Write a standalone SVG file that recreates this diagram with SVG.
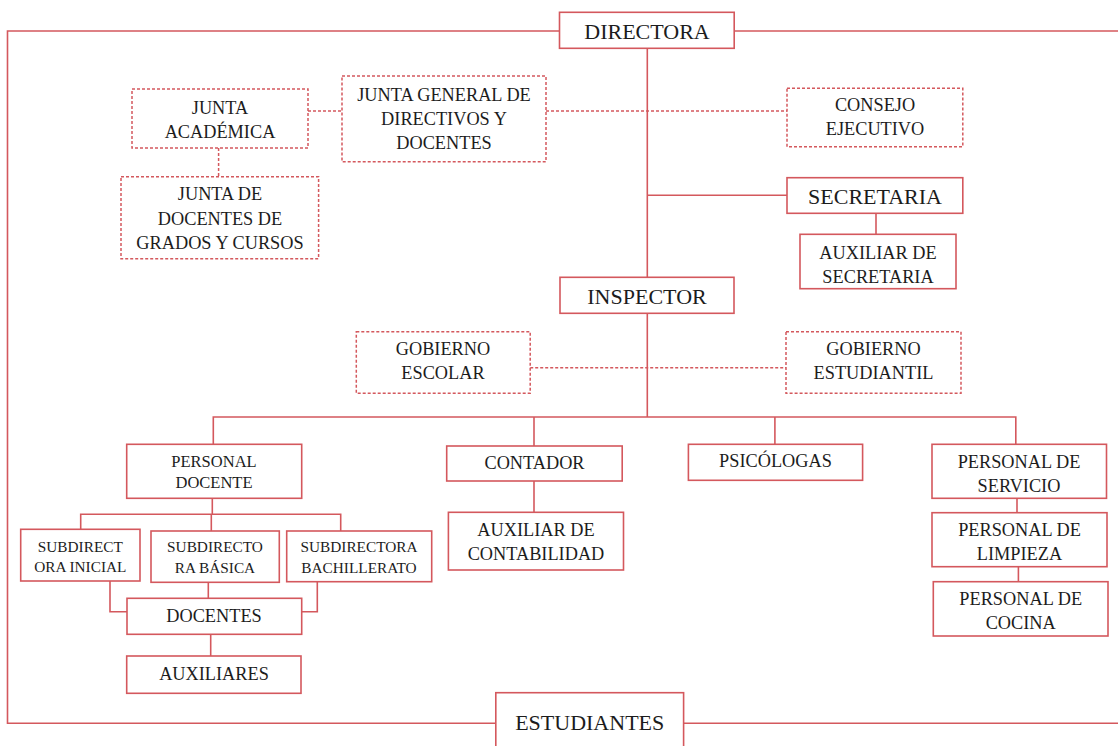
<svg xmlns="http://www.w3.org/2000/svg" width="1118" height="746" viewBox="0 0 1118 746">
  <style>
    .box { fill: #ffffff; stroke: #d4585d; stroke-width: 1.6; }
    .dbox { fill: #ffffff; stroke: #d4585d; stroke-width: 1.5; stroke-dasharray: 3 2; }
    .ln { fill: none; stroke: #d4585d; stroke-width: 1.6; }
    .dln { fill: none; stroke: #d4585d; stroke-width: 1.5; stroke-dasharray: 3 2; }
    text { font-family: "Liberation Serif", "Times New Roman", serif; fill: #1c1c1c; text-anchor: middle; }
    .lg { font-size: 22px; }
    .md { font-size: 18.3px; }
    .sm { font-size: 16.5px; }
    .xs { font-size: 15.3px; }
  </style>
  <rect width="1118" height="746" fill="#ffffff"/>

  <!-- connectors -->
  <g id="connectors">
    <!-- outer frame linking DIRECTORA and ESTUDIANTES -->
    <polyline class="ln" points="559.5,31 7.5,31 7.5,723.3 496,723.3"/>
    <line class="ln" x1="734" y1="31" x2="1118" y2="31"/>
    <line class="ln" x1="683.6" y1="723.3" x2="1118" y2="723.3"/>
    <!-- main spine -->
    <line class="ln" x1="647.3" y1="48.3" x2="647.3" y2="277.3"/>
    <line class="ln" x1="647.3" y1="195.3" x2="787" y2="195.3"/>
    <line class="ln" x1="876" y1="213.3" x2="876" y2="234.3"/>
    <line class="ln" x1="647.3" y1="313.3" x2="647.3" y2="417"/>
    <!-- dashed advisory links -->
    <line class="dln" x1="308" y1="111" x2="342" y2="111"/>
    <line class="dln" x1="546" y1="111" x2="787" y2="111"/>
    <line class="dln" x1="218.6" y1="148" x2="218.6" y2="176.7"/>
    <line class="dln" x1="530.2" y1="367.7" x2="786" y2="367.7"/>
    <!-- lower bus -->
    <polyline class="ln" points="213.3,444.3 213.3,417 1015.8,417 1015.8,444.3"/>
    <line class="ln" x1="534" y1="417" x2="534" y2="446"/>
    <line class="ln" x1="774.9" y1="417" x2="774.9" y2="444.3"/>
    <line class="ln" x1="534" y1="481" x2="534" y2="512.3"/>
    <line class="ln" x1="1017" y1="498.3" x2="1017" y2="512.7"/>
    <line class="ln" x1="1018.4" y1="566.7" x2="1018.4" y2="581.7"/>
    <!-- teaching staff branch -->
    <line class="ln" x1="212.3" y1="498.3" x2="212.3" y2="514.3"/>
    <polyline class="ln" points="80.7,529.3 80.7,514.3 340.7,514.3 340.7,531"/>
    <line class="ln" x1="211.3" y1="514.3" x2="211.3" y2="531"/>
    <polyline class="ln" points="110,581 110,611.7 127,611.7"/>
    <line class="ln" x1="208.3" y1="582.3" x2="208.3" y2="598.3"/>
    <polyline class="ln" points="317.3,581.7 317.3,611.7 301.7,611.7"/>
    <line class="ln" x1="210.7" y1="634.3" x2="210.7" y2="656"/>
  </g>

  <g id="directora">
    <rect class="box" x="559.5" y="12.3" width="174.7" height="36"/>
    <text class="lg" x="647" y="39">DIRECTORA</text>
  </g>
  <g id="junta-academica">
    <rect class="dbox" x="132" y="89" width="176" height="59"/>
    <text class="md" x="220" y="113.5">JUNTA</text>
    <text class="md" x="220" y="138">ACADÉMICA</text>
  </g>
  <g id="junta-general">
    <rect class="dbox" x="342" y="76" width="204" height="85.7"/>
    <text class="md" x="444" y="101">JUNTA GENERAL DE</text>
    <text class="md" x="444" y="125">DIRECTIVOS Y</text>
    <text class="md" x="444" y="149">DOCENTES</text>
  </g>
  <g id="consejo-ejecutivo">
    <rect class="dbox" x="787" y="88.3" width="175.8" height="58.4"/>
    <text class="md" x="875" y="111">CONSEJO</text>
    <text class="md" x="875" y="135">EJECUTIVO</text>
  </g>
  <g id="junta-docentes">
    <rect class="dbox" x="121" y="176.7" width="197.6" height="82"/>
    <text class="md" x="220" y="200">JUNTA DE</text>
    <text class="md" x="220" y="225">DOCENTES DE</text>
    <text class="md" x="220" y="249">GRADOS Y CURSOS</text>
  </g>
  <g id="secretaria">
    <rect class="box" x="787" y="177.7" width="175.8" height="35.6"/>
    <text class="lg" x="875" y="204">SECRETARIA</text>
  </g>
  <g id="auxiliar-secretaria">
    <rect class="box" x="800" y="234.3" width="156" height="54.4"/>
    <text class="md" x="878" y="259">AUXILIAR DE</text>
    <text class="md" x="878" y="283">SECRETARIA</text>
  </g>
  <g id="inspector">
    <rect class="box" x="560" y="277.3" width="174" height="36"/>
    <text class="lg" x="647" y="304">INSPECTOR</text>
  </g>
  <g id="gobierno-escolar">
    <rect class="dbox" x="356.3" y="331.7" width="173.9" height="61.6"/>
    <text class="md" x="443" y="355">GOBIERNO</text>
    <text class="md" x="443" y="379">ESCOLAR</text>
  </g>
  <g id="gobierno-estudiantil">
    <rect class="dbox" x="786" y="331.7" width="175" height="61.6"/>
    <text class="md" x="873.5" y="355">GOBIERNO</text>
    <text class="md" x="873.5" y="379">ESTUDIANTIL</text>
  </g>
  <g id="personal-docente">
    <rect class="box" x="126.7" y="444.3" width="175" height="54"/>
    <text class="sm" x="214" y="466.5">PERSONAL</text>
    <text class="sm" x="214" y="488">DOCENTE</text>
  </g>
  <g id="contador">
    <rect class="box" x="446.7" y="446" width="175.5" height="35"/>
    <text class="md" x="534.5" y="469">CONTADOR</text>
  </g>
  <g id="auxiliar-contabilidad">
    <rect class="box" x="448.4" y="512.3" width="175.1" height="57.7"/>
    <text class="md" x="536" y="535.5">AUXILIAR DE</text>
    <text class="md" x="536" y="560">CONTABILIDAD</text>
  </g>
  <g id="psicologas">
    <rect class="box" x="688.4" y="444.3" width="174.2" height="36"/>
    <text class="md" x="775.5" y="466.5">PSICÓLOGAS</text>
  </g>
  <g id="personal-servicio">
    <rect class="box" x="932" y="444.3" width="174.5" height="54"/>
    <text class="md" x="1019" y="467.5">PERSONAL DE</text>
    <text class="md" x="1019" y="491.5">SERVICIO</text>
  </g>
  <g id="personal-limpieza">
    <rect class="box" x="932" y="512.7" width="175" height="54"/>
    <text class="md" x="1019.5" y="536">PERSONAL DE</text>
    <text class="md" x="1019.5" y="560">LIMPIEZA</text>
  </g>
  <g id="personal-cocina">
    <rect class="box" x="933.3" y="581.7" width="174.7" height="54.3"/>
    <text class="md" x="1020.7" y="605">PERSONAL DE</text>
    <text class="md" x="1020.7" y="629">COCINA</text>
  </g>
  <g id="subdirectora-inicial">
    <rect class="box" x="20.7" y="529.3" width="119.3" height="51.7"/>
    <text class="xs" x="80.3" y="551.5">SUBDIRECT</text>
    <text class="xs" x="80.3" y="572">ORA INICIAL</text>
  </g>
  <g id="subdirectora-basica">
    <rect class="box" x="151" y="531" width="128.3" height="51.3"/>
    <text class="xs" x="215" y="552.3">SUBDIRECTO</text>
    <text class="xs" x="215" y="573">RA BÁSICA</text>
  </g>
  <g id="subdirectora-bachillerato">
    <rect class="box" x="286.7" y="531" width="145" height="50.7"/>
    <text class="xs" x="359" y="552">SUBDIRECTORA</text>
    <text class="xs" x="359" y="572.5">BACHILLERATO</text>
  </g>
  <g id="docentes">
    <rect class="box" x="127" y="598.3" width="174.7" height="36"/>
    <text class="md" x="214" y="621.5">DOCENTES</text>
  </g>
  <g id="auxiliares">
    <rect class="box" x="126.7" y="656" width="174.3" height="37.3"/>
    <text class="md" x="214" y="680">AUXILIARES</text>
  </g>
  <g id="estudiantes">
    <rect class="box" x="495.8" y="692.7" width="187.8" height="70"/>
    <text class="lg" x="589.7" y="730">ESTUDIANTES</text>
  </g>
</svg>
